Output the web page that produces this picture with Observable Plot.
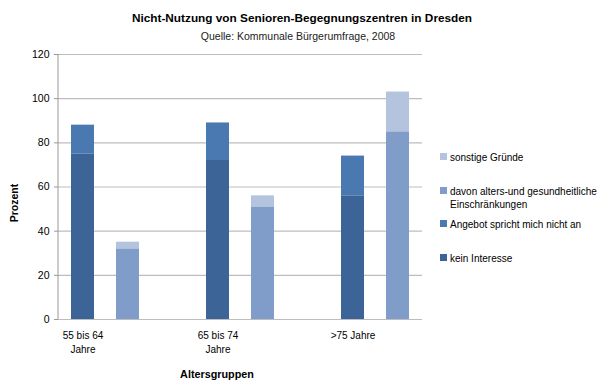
<!DOCTYPE html>
<html>
<head>
<meta charset="utf-8">
<script src="https://cdn.jsdelivr.net/npm/d3@7"></script>
<script src="https://cdn.jsdelivr.net/npm/@observablehq/plot@0.6"></script>
<style>
  html, body { margin: 0; padding: 0; background: #fff; }
</style>
</head>
<body>
<div id="chart"></div>
<script>
const title = "Nicht-Nutzung von Senioren-Begegnungszentren in Dresden";
const subtitle = "Quelle: Kommunale Bürgerumfrage, 2008";
const categories = ["55 bis 64\nJahre", "65 bis 74\nJahre", ">75 Jahre"];
const seriesNames = ["kein Interesse", "Angebot spricht mich nicht an", "davon alters-und gesundheitliche Einschränkungen", "sonstige Gründe"];
const legendLabels = ["sonstige Gründe", "davon alters-und gesundheitliche\nEinschränkungen", "Angebot spricht mich nicht an", "kein Interesse"];
const keinInteresse = [75, 72, 56];
const angebot = [13, 17, 18];
const gesundheit = [32, 51, 85];
const sonstige = [3, 5, 18];
const colors = ["#3c6496", "#4a78b0", "#7f9dc8", "#b4c4df"];
const yTicks = [0, 20, 40, 60, 80, 100, 120];

const font = '"Liberation Sans", Arial, sans-serif';

// slots: two bars per age group, with an empty slot between groups
const slots = [];
categories.forEach((c, i) => {
  slots.push("a" + i, "b" + i);
  if (i < categories.length - 1) slots.push("gap" + i);
});

const rows = [];
categories.forEach((c, i) => {
  rows.push({slot: "a" + i, series: seriesNames[0], value: keinInteresse[i]});
  rows.push({slot: "a" + i, series: seriesNames[1], value: angebot[i]});
  rows.push({slot: "b" + i, series: seriesNames[2], value: gesundheit[i]});
  rows.push({slot: "b" + i, series: seriesNames[3], value: sonstige[i]});
});

const chart = Plot.plot({
  width: 600,
  height: 385,
  marginLeft: 58,
  marginRight: 178,
  marginTop: 54,
  marginBottom: 66,
  style: {fontSize: "10px", fontFamily: font, color: "#000"},
  x: {domain: slots, paddingInner: 0.5, paddingOuter: 0.25, label: null},
  y: {domain: [0, 120], label: null},
  color: {domain: seriesNames, range: colors},
  marks: [
    Plot.ruleY(yTicks, {stroke: "#bdbdbd", strokeWidth: 1.2}),
    Plot.barY(rows, {x: "slot", y: "value", fill: "series", order: seriesNames}),
    Plot.axisY(yTicks, {tickSize: 4, tickPadding: 5, stroke: "#999", fontSize: 10.5, label: null}),
    Plot.axisX(categories.map((c, i) => "a" + i), {
      tickSize: 0, tickPadding: 10, fontSize: 10, lineHeight: 1.4, label: null,
      tickFormat: d => categories[+d.slice(1)]
    })
  ]
});

const svg = d3.select(chart);
const xs = chart.scale("x"), ys = chart.scale("y");
const [x0, x1] = xs.range;
const [yb, yt] = ys.range;

// vertical value axis line
svg.append("line").attr("x1", x0).attr("x2", x0).attr("y1", yt).attr("y2", yb)
  .attr("stroke", "#999");

svg.append("text").attr("x", 302).attr("y", 22).attr("text-anchor", "middle")
  .attr("font-family", font).attr("font-weight", "bold").attr("font-size", 11.8).text(title);
svg.append("text").attr("x", 298).attr("y", 39.5).attr("text-anchor", "middle")
  .attr("font-family", font).attr("font-size", 10.5).attr("fill", "#222").text(subtitle);

svg.append("text").attr("transform", `translate(18,203) rotate(-90)`)
  .attr("text-anchor", "middle").attr("font-family", font).attr("font-weight", "bold")
  .attr("font-size", 10.5).text("Prozent");
svg.append("text").attr("x", 217).attr("y", 378).attr("text-anchor", "middle")
  .attr("font-family", font).attr("font-weight", "bold").attr("font-size", 10.8).text("Altersgruppen");

// legend
const legendY = [157, 191, 224, 258];
const legendColors = [colors[3], colors[2], colors[1], colors[0]];
legendLabels.forEach((lab, i) => {
  const g = svg.append("g").attr("transform", `translate(440,${legendY[i]})`);
  g.append("rect").attr("x", 0).attr("y", -4).attr("width", 7).attr("height", 7).attr("fill", legendColors[i]);
  const t = g.append("text").attr("text-anchor", "start")
    .attr("font-family", font).attr("font-size", 10);
  lab.split("\n").forEach((line, j) => {
    t.append("tspan").attr("x", 10).attr("y", j * 13).attr("dy", "0.35em").text(line);
  });
});

document.getElementById("chart").appendChild(chart);
</script>
</body>
</html>
